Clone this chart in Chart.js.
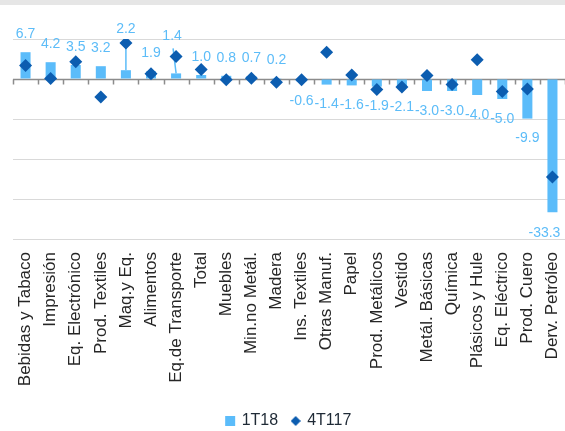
<!DOCTYPE html>
<html>
<head>
<meta charset="utf-8">
<title>1T18 vs 4T117</title>
<script src="https://cdn.jsdelivr.net/npm/chart.js@4/dist/chart.umd.min.js"></script>
<style>
  html, body { margin: 0; padding: 0; background: #ffffff; }
  #wrap { width: 565px; height: 431px; position: relative; }
</style>
</head>
<body>
<div id="wrap"><canvas id="chart" width="565" height="431"></canvas></div>
<script>
// Categories (sorted by the 1T18 change)
const categories = [
  'Bebidas y Tabaco', 'Impresión', 'Eq. Electrónico', 'Prod. Textiles', 'Maq.y Eq.',
  'Alimentos', 'Eq.de Transporte', 'Total', 'Muebles', 'Min.no Metál.', 'Madera',
  'Ins. Textiles', 'Otras Manuf.', 'Papel', 'Prod. Metálicos', 'Vestido',
  'Metál. Básicas', 'Química', 'Plásicos y Hule', 'Eq. Eléctrico', 'Prod. Cuero',
  'Derv. Petróleo'
];

// Series values
const values1T18 = [
  6.7, 4.2, 3.5, 3.2, 2.2, 1.9, 1.4, 1.0, 0.8, 0.7, 0.2,
  -0.6, -1.4, -1.6, -1.9, -2.1, -3.0, -3.0, -4.0, -5.0, -9.9, -33.3
];
const values4T117 = [
  3.4, 0.1, 4.3, -4.5, 9.0, 1.3, 5.6, 2.4, -0.2, 0.2, -0.8,
  -0.2, 6.7, 1.0, -2.6, -2.0, 0.9, -1.4, 4.8, -3.1, -2.5, -24.5
];

// Value axis range and gridline step
const yMin = -40;
const yMax = 10;
const yStep = 10;

const seriesNames = ['1T18', '4T117'];

const barColor = '#5bbcfa';
const diamondColor = '#0c5db0';
const fontFamily = '"Liberation Sans", Arial, Helvetica, sans-serif';

// Small diamond used as the legend symbol of the point series
const legendDiamond = (() => {
  const c = document.createElement('canvas');
  c.width = 10; c.height = 10;
  const g = c.getContext('2d');
  g.fillStyle = diamondColor;
  g.beginPath();
  g.moveTo(5, 0); g.lineTo(10, 5); g.lineTo(5, 10); g.lineTo(0, 5);
  g.closePath();
  g.fill();
  return c;
})();

// Light band along the top edge of the panel
const topBand = {
  id: 'topBand',
  beforeDraw(chart) {
    const ctx = chart.ctx;
    ctx.save();
    ctx.fillStyle = '#e6e6e6';
    ctx.fillRect(0, 0, chart.width, 5);
    ctx.restore();
  }
};

// Category axis drawn through zero with short tick marks between categories
const zeroAxis = {
  id: 'zeroAxis',
  beforeDatasetsDraw(chart) {
    const {ctx, chartArea, scales} = chart;
    const y = Math.round(scales.y.getPixelForValue(0)) + 0.5;
    const n = chart.data.labels.length;
    const w = (chartArea.right - chartArea.left) / n;
    ctx.save();
    ctx.strokeStyle = '#8c8c8c';
    ctx.lineWidth = 1.5;
    ctx.beginPath();
    ctx.moveTo(chartArea.left, y);
    ctx.lineTo(chartArea.right, y);
    for (let k = 0; k <= n; k++) {
      const x = Math.round(chartArea.left + k * w) + 0.5;
      ctx.moveTo(x, y);
      ctx.lineTo(x, y + 5);
    }
    ctx.stroke();
    ctx.restore();
  }
};

// Value labels on the bars; a few are moved and the lifted ones get a leader line
function labelPosition(el, v, shift) {
  let x = el.x;
  let y = v >= 0 ? el.y - 18 : el.y + 20;
  if (shift) { x += shift.dx; y += shift.dy; }
  return {x, y};
}

const barLabels = {
  id: 'barLabels',
  afterDatasetDraw(chart, args, opts) {
    if (args.index !== 0) return;
    const ctx = chart.ctx;
    const meta = chart.getDatasetMeta(0);
    const data = chart.data.datasets[0].data;
    ctx.save();
    ctx.strokeStyle = opts.color;
    ctx.lineWidth = 1.5;
    meta.data.forEach((el, i) => {
      const shift = opts.shifts[i];
      if (!shift || !shift.leader) return;
      const p = labelPosition(el, data[i], shift);
      ctx.beginPath();
      ctx.moveTo(p.x - shift.dx * 0.25, p.y + 12);
      ctx.lineTo(el.x, el.y);
      ctx.stroke();
    });
    ctx.restore();
  },
  afterDatasetsDraw(chart, args, opts) {
    const ctx = chart.ctx;
    const meta = chart.getDatasetMeta(0);
    const data = chart.data.datasets[0].data;
    ctx.save();
    ctx.fillStyle = opts.color;
    ctx.font = '14px ' + fontFamily;
    ctx.textAlign = 'center';
    ctx.textBaseline = 'middle';
    meta.data.forEach((el, i) => {
      const p = labelPosition(el, data[i], opts.shifts[i]);
      ctx.fillText(data[i].toFixed(1), p.x, p.y);
    });
    ctx.restore();
  }
};

new Chart(document.getElementById('chart'), {
  type: 'bar',
  data: {
    labels: categories,
    datasets: [
      {
        type: 'bar',
        label: seriesNames[0],
        data: values1T18,
        backgroundColor: barColor,
        borderWidth: 0,
        barPercentage: 0.4,
        categoryPercentage: 1.0,
        pointStyle: 'rect',
        order: 1
      },
      {
        type: 'line',
        label: seriesNames[1],
        data: values4T117,
        showLine: false,
        pointStyle: 'rectRot',
        pointRadius: 6.5,
        pointHoverRadius: 6.5,
        pointBackgroundColor: diamondColor,
        pointBorderColor: diamondColor,
        pointBorderWidth: 0,
        backgroundColor: diamondColor,
        borderColor: diamondColor,
        order: 0
      }
    ]
  },
  options: {
    responsive: false,
    animation: false,
    devicePixelRatio: 1,
    layout: { autoPadding: false, padding: { left: 13, right: 0, top: 39, bottom: -8 } },
    scales: {
      x: {
        offset: true,
        grid: { display: false },
        border: { display: false },
        ticks: {
          autoSkip: false,
          minRotation: 90,
          maxRotation: 90,
          padding: 5,
          color: '#262626',
          font: { family: fontFamily, size: 17 }
        },
        afterFit(scale) {
          scale.height = 160;
          scale.paddingLeft = 0;
          scale.paddingRight = 0;
        }
      },
      y: {
        min: yMin,
        max: yMax,
        ticks: { display: false, stepSize: yStep },
        border: { display: false },
        grid: { color: '#d9d9d9', lineWidth: 1, drawTicks: false },
        afterFit(scale) { scale.width = 0; }
      }
    },
    plugins: {
      legend: {
        position: 'bottom',
        labels: {
          usePointStyle: true,
          boxWidth: 7,
          boxHeight: 10,
          padding: 14,
          color: '#1f2a36',
          font: { family: fontFamily, size: 16 },
          sort: (a, b) => a.datasetIndex - b.datasetIndex,
          generateLabels(chart) {
            const items = Chart.defaults.plugins.legend.labels.generateLabels(chart);
            items.forEach(it => {
              if (it.datasetIndex === 1) it.pointStyle = legendDiamond;
              it.lineWidth = 0;
            });
            return items;
          }
        }
      },
      tooltip: { enabled: false },
      barLabels: {
        color: '#5cbcf8',
        shifts: {
          4: { dx: 0, dy: -23, leader: true },
          6: { dx: -4, dy: -19, leader: true },
          21: { dx: -8, dy: 1 }
        }
      }
    }
  },
  plugins: [topBand, zeroAxis, barLabels]
});
</script>
</body>
</html>
